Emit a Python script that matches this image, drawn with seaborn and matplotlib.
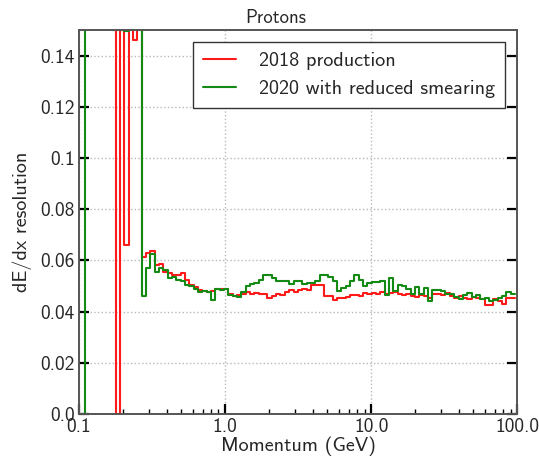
import numpy as np
import pandas as pd
import matplotlib
matplotlib.use("Agg")
import matplotlib.pyplot as plt
from matplotlib.lines import Line2D
from matplotlib.font_manager import FontProperties
import seaborn as sns

# 100 logarithmic momentum bins spanning roughly 0.1 to 100 GeV
bin_edges = np.logspace(-0.988, 1.983, 101)

# dE/dx resolution per bin (values above 0.15 run off the top of the frame)
res_2018 = [
    0.5, 0.5, 0.5, 0.5, 0.5, 0.5, 0.5, 0.5, 0.0, 0.5,
    0.066, 0.5, 0.146, 0.5, 0.0612, 0.0630, 0.0637, 0.0582, 0.0585, 0.0556,
    0.0550, 0.0545, 0.0545, 0.0550, 0.0523, 0.0504, 0.0497, 0.0484, 0.0480, 0.0478,
    0.0482, 0.0490, 0.0490, 0.0488, 0.0468, 0.0462, 0.0465, 0.0468, 0.0475, 0.0470,
    0.0473, 0.0470, 0.0468, 0.0455, 0.0462, 0.0470, 0.0465, 0.0477, 0.0484, 0.0477,
    0.0484, 0.0488, 0.0484, 0.0504, 0.0504, 0.0504, 0.0460, 0.0460, 0.0445, 0.0452,
    0.0452, 0.0458, 0.0465, 0.0465, 0.0460, 0.0471, 0.0468, 0.0472, 0.0470, 0.0478,
    0.0470, 0.0472, 0.0478, 0.0468, 0.0465, 0.0468, 0.0462, 0.0458, 0.0465, 0.0462,
    0.0455, 0.0470, 0.0468, 0.0465, 0.0472, 0.0460, 0.0455, 0.0462, 0.0452, 0.0450,
    0.0458, 0.0455, 0.0450, 0.0425, 0.0425, 0.0450, 0.0440, 0.0428, 0.0455, 0.0455,
]
res_2020 = [
    0.0, 0.5, 0.5, 0.5, 0.5, 0.5, 0.5, 0.5, 0.5, 0.5,
    0.1497, 0.5, 0.5, 0.5, 0.0460, 0.0571, 0.0625, 0.0556, 0.0571, 0.0562,
    0.0530, 0.0536, 0.0523, 0.0520, 0.0504, 0.0500, 0.0490, 0.0478, 0.0482, 0.0478,
    0.0445, 0.0490, 0.0486, 0.0488, 0.0465, 0.0462, 0.0458, 0.0478, 0.0500, 0.0508,
    0.0513, 0.0525, 0.0543, 0.0543, 0.0530, 0.0520, 0.0520, 0.0520, 0.0508, 0.0520,
    0.0520, 0.0509, 0.0512, 0.0512, 0.0520, 0.0543, 0.0543, 0.0537, 0.0520, 0.0480,
    0.0492, 0.0502, 0.0520, 0.0543, 0.0523, 0.0502, 0.0510, 0.0517, 0.0517, 0.0520,
    0.0465, 0.0530, 0.0480, 0.0504, 0.0500, 0.0490, 0.0470, 0.0495, 0.0470, 0.0492,
    0.0440, 0.0485, 0.0485, 0.0480, 0.0470, 0.0470, 0.0458, 0.0450, 0.0466, 0.0472,
    0.0458, 0.0465, 0.0450, 0.0455, 0.0440, 0.0445, 0.0455, 0.0462, 0.0475, 0.0470,
]

series_names = ["2018 production", "2020 with reduced smearing"]
series_colors = ["#ff1a1a", "#138a13"]

y_ticks = [0.0, 0.02, 0.04, 0.06, 0.08, 0.10, 0.12, 0.14]
y_tick_labels = ["0.0", "0.02", "0.04", "0.06", "0.08", "0.1", "0.12", "0.14"]
x_ticks = [0.1, 1.0, 10.0, 100.0]
x_tick_labels = ["0.1", "1.0", "10.0", "100.0"]

sns.set_theme(style="white")
plt.rcParams["font.family"] = ["cmss10", "DejaVu Sans"]
plt.rcParams["axes.unicode_minus"] = False

frames = []
for name, vals in zip(series_names, [res_2018, res_2020]):
    # each bin value starts at its left edge; repeat the last value to close the final bin
    frames.append(pd.DataFrame({
        "momentum": bin_edges,
        "resolution": list(vals) + [vals[-1]],
        "series": name,
    }))
df = pd.concat(frames, ignore_index=True)

fig = plt.figure(figsize=(5.39, 4.58), dpi=100)
ax = fig.add_axes([0.1466, 0.096, 0.8134, 0.8385])

sns.lineplot(
    data=df, x="momentum", y="resolution", hue="series",
    hue_order=series_names, palette=series_colors,
    drawstyle="steps-post", estimator=None, sort=False,
    linewidth=1.5, legend=False, ax=ax,
)

ax.set_xscale("log")
ax.set_xlim(0.1, 100)
ax.set_ylim(0, 0.15)

ax.set_xticks(x_ticks)
ax.set_xticklabels(x_tick_labels)
ax.set_yticks(y_ticks)
ax.set_yticklabels(y_tick_labels)

ax.tick_params(axis="both", which="major", direction="in", length=7, width=1.6,
               color="black", labelsize=14, pad=3)
ax.tick_params(axis="x", which="minor", direction="in", length=3.5, width=1.0,
               color="black")
ax.tick_params(axis="y", which="both", left=True, right=True)
ax.tick_params(axis="x", which="both", bottom=True, top=False)

ax.grid(True, which="major", linestyle=":", linewidth=1.0, color="#b8b8b8")
for side in ["left", "right", "top", "bottom"]:
    ax.spines[side].set_color("#555555")
    ax.spines[side].set_linewidth(1.4)

ax.set_xlabel("Momentum (GeV)", fontsize=14.5, labelpad=0)
ax.set_ylabel("dE/dx resolution", fontsize=14.5, labelpad=6)
ax.set_title("Protons", fontsize=13.5, pad=5, x=0.449)

handles = [Line2D([0], [0], color=c, linewidth=1.5) for c in series_colors]
legend_font = FontProperties(family=["cmss10", "DejaVu Sans"], size=14.5)
leg = ax.legend(handles, series_names, loc="upper right", prop=legend_font,
                frameon=True, fancybox=False, framealpha=1.0,
                edgecolor="#333333", handlelength=1.65, handletextpad=1.15,
                borderpad=0.5, labelspacing=0.5, borderaxespad=0.6)
leg.get_frame().set_linewidth(1.0)

fig.savefig("out.png", dpi=100)
